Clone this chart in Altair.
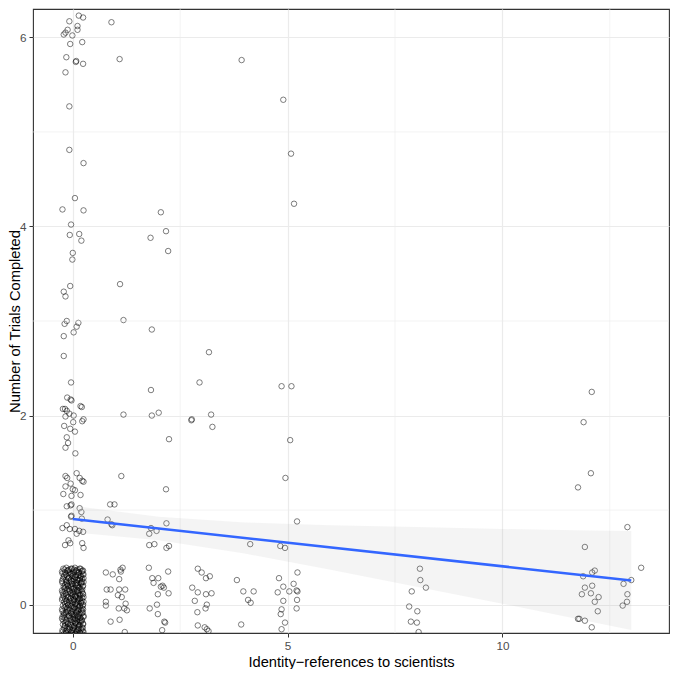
import altair as alt
import pandas as pd

# ---- jittered points ----
# dense cluster at x=0, y=0 (two interleaved sets)
cl_x = [
    -0.22, -0.15, -0.09, -0.02, 0.05, 0.11, 0.18, 0.24,
    -0.25, -0.18, -0.11, -0.05, 0.02, 0.08, 0.15, 0.21,
    -0.20, -0.13, -0.07, 0.00, 0.06, 0.13, 0.19, 0.25,
    -0.23, -0.16, -0.10, -0.03, 0.03, 0.10, 0.17, 0.22,
    -0.24, -0.14, -0.08, -0.01, 0.07, 0.12, 0.20, 0.25,
    -0.21, -0.17, -0.12, -0.04, 0.01, 0.09, 0.14, 0.23,
    -0.25, -0.19, -0.09, -0.02, 0.04, 0.11, 0.18, 0.21,
    -0.22, -0.15, -0.06, 0.00, 0.06, 0.13, 0.16, 0.24,
    -0.24, -0.18, -0.11, -0.05, 0.03, 0.08, 0.15, 0.22,
    -0.20, -0.13, -0.07, 0.01, 0.05, 0.12, 0.19, 0.25,
    -0.23, -0.16, -0.10, -0.03, 0.04, 0.10, 0.17, 0.23,
    -0.25, -0.14, -0.08, 0.00, 0.07, 0.13, 0.20, 0.24,
    -0.21, -0.17, -0.12, -0.04, 0.02, 0.09, 0.14, 0.22,
    -0.24, -0.19, -0.09, -0.01, 0.05, 0.11, 0.18, 0.25,
    -0.22, -0.15, -0.06, 0.02, 0.06, 0.12, 0.16, 0.21,
    -0.23, -0.18, -0.11, -0.05, 0.03, 0.08, 0.15, 0.24,
    -0.20, -0.13, -0.07, 0.01, 0.04, 0.13, 0.19, 0.23,
    -0.24, -0.16, -0.10, -0.03, 0.06, 0.10, 0.17, 0.25,
    -0.21, -0.14, -0.08, 0.00, 0.07, 0.12, 0.20, 0.22,
    -0.25, -0.17, -0.12, -0.04, 0.02, 0.09, 0.14, 0.24,
]
cl_y = [
    0.38, 0.39, 0.37, 0.38, 0.39, 0.37, 0.38, 0.36,
    0.35, 0.34, 0.36, 0.33, 0.35, 0.36, 0.34, 0.35,
    0.31, 0.30, 0.32, 0.31, 0.29, 0.31, 0.30, 0.32,
    0.27, 0.26, 0.28, 0.25, 0.27, 0.26, 0.28, 0.27,
    0.23, 0.22, 0.24, 0.22, 0.23, 0.21, 0.23, 0.24,
    0.19, 0.18, 0.20, 0.19, 0.17, 0.20, 0.18, 0.19,
    0.15, 0.14, 0.16, 0.15, 0.13, 0.15, 0.16, 0.14,
    0.11, 0.10, 0.12, 0.11, 0.09, 0.12, 0.10, 0.11,
    0.07, 0.06, 0.08, 0.07, 0.05, 0.08, 0.06, 0.07,
    0.03, 0.02, 0.04, 0.03, 0.01, 0.04, 0.02, 0.03,
    -0.01, -0.02, 0.00, -0.01, -0.03, 0.00, -0.02, -0.01,
    -0.05, -0.06, -0.04, -0.05, -0.07, -0.04, -0.06, -0.05,
    -0.09, -0.10, -0.08, -0.09, -0.11, -0.08, -0.10, -0.09,
    -0.13, -0.14, -0.12, -0.13, -0.15, -0.12, -0.14, -0.13,
    -0.17, -0.18, -0.16, -0.17, -0.19, -0.16, -0.18, -0.17,
    -0.21, -0.22, -0.20, -0.21, -0.23, -0.20, -0.22, -0.21,
    -0.25, -0.26, -0.24, -0.25, -0.27, -0.24, -0.26, -0.25,
    -0.29, -0.30, -0.28, -0.29, -0.31, -0.28, -0.30, -0.29,
    -0.33, -0.34, -0.32, -0.33, -0.35, -0.32, -0.34, -0.33,
    -0.37, -0.38, -0.36, -0.37, -0.39, -0.36, -0.38, -0.37,
]
cl2_x = [
    -0.19, -0.12, -0.04, 0.03, 0.09, 0.16, 0.22,
    -0.24, -0.16, -0.07, 0.00, 0.08, 0.14, 0.23,
    -0.21, -0.10, -0.02, 0.05, 0.12, 0.18, 0.25,
    -0.25, -0.15, -0.05, 0.02, 0.10, 0.17, 0.21,
    -0.18, -0.11, -0.03, 0.06, 0.11, 0.19, 0.24,
    -0.19, -0.12, -0.04, 0.03, 0.09, 0.16, 0.22,
    -0.24, -0.16, -0.07, 0.00, 0.08, 0.14, 0.23,
    -0.21, -0.10, -0.02, 0.05, 0.12, 0.18, 0.25,
    -0.25, -0.15, -0.05, 0.02, 0.10, 0.17, 0.21,
    -0.18, -0.11, -0.03, 0.06, 0.11, 0.19, 0.24,
    -0.19, -0.12, -0.04, 0.03, 0.09, 0.16, 0.22,
    -0.24, -0.16, -0.07, 0.00, 0.08, 0.14, 0.23,
    -0.21, -0.10, -0.02, 0.05, 0.12, 0.18, 0.25,
    -0.25, -0.15, -0.05, 0.02, 0.10, 0.17, 0.21,
    -0.18, -0.11, -0.03, 0.06, 0.11, 0.19, 0.24,
    -0.19, -0.12, -0.04, 0.03, 0.09, 0.16, 0.22,
    -0.24, -0.16, -0.07, 0.00, 0.08, 0.14, 0.23,
    -0.21, -0.10, -0.02, 0.05, 0.12, 0.18, 0.25,
    -0.25, -0.15, -0.05, 0.02, 0.10, 0.17, 0.21,
]
cl2_y = [
    0.37, 0.36, 0.38, 0.37, 0.35, 0.38, 0.36,
    0.33, 0.32, 0.34, 0.33, 0.31, 0.34, 0.32,
    0.29, 0.28, 0.30, 0.29, 0.27, 0.30, 0.28,
    0.25, 0.24, 0.26, 0.25, 0.23, 0.26, 0.24,
    0.21, 0.20, 0.22, 0.21, 0.19, 0.22, 0.20,
    0.17, 0.16, 0.18, 0.17, 0.15, 0.18, 0.16,
    0.13, 0.12, 0.14, 0.13, 0.11, 0.14, 0.12,
    0.09, 0.08, 0.10, 0.09, 0.07, 0.10, 0.08,
    0.05, 0.04, 0.06, 0.05, 0.03, 0.06, 0.04,
    0.01, 0.00, 0.02, 0.01, -0.01, 0.02, 0.00,
    -0.03, -0.04, -0.02, -0.03, -0.05, -0.02, -0.04,
    -0.07, -0.08, -0.06, -0.07, -0.09, -0.06, -0.08,
    -0.11, -0.12, -0.10, -0.11, -0.13, -0.10, -0.12,
    -0.15, -0.16, -0.14, -0.15, -0.17, -0.14, -0.16,
    -0.19, -0.20, -0.18, -0.19, -0.21, -0.18, -0.20,
    -0.23, -0.24, -0.22, -0.23, -0.25, -0.22, -0.24,
    -0.27, -0.28, -0.26, -0.27, -0.29, -0.26, -0.28,
    -0.31, -0.32, -0.30, -0.31, -0.33, -0.30, -0.32,
    -0.35, -0.36, -0.34, -0.35, -0.37, -0.34, -0.36,
]

# all other points
pts_x = [
    # x~0, y~6..4
    0.14, 0.24, -0.08, 0.90, 0.11, 0.11, -0.12, -0.17, -0.21, -0.01, 0.22, -0.06,
    -0.15, 1.09, 0.08, 0.07, 0.24, -0.17, -0.08, -0.08, 0.25,
    0.05, -0.24, 0.25, 2.05, -0.04, 2.17, 0.15, -0.07, 1.81, 0.20, 0.00, 2.22, -0.01,
    # y~3
    1.10, -0.06, -0.21, -0.17, 1.18, -0.14, 0.13, -0.19, 0.09, 0.02, 1.84, -0.21, 3.17, -0.21,
    # y~2
    -0.04, 2.95, 1.82, -0.13, -0.05, -0.03, 0.18, 0.21, -0.23, -0.18, -0.14, -0.08, 0.02,
    -0.17, 1.18, 1.84, 2.00, 3.22, 2.77, 2.76, 0.25, -0.20, 0.01, 0.22, -0.06, 0.05, -0.14,
    -0.11, -0.17, 0.06, 2.24, 3.25,
    # x~4,5,12 high
    3.93, 4.90, 5.08, 5.15, 4.86, 5.09, 5.06, 4.95, 12.08, 11.89, 12.06, 11.76,
    # y~1
    1.13, 2.17, -0.17, -0.13, 0.09, 0.16, 0.25, 0.22, -0.05, -0.17, 0.00, 0.05, -0.22,
    -0.03, 0.18, -0.14, -0.05, -0.03, 0.16, 0.20, -0.03, -0.04, 0.21, -0.24, -0.14, -0.07,
    0.05, 0.09, 0.15, 0.24, -0.10, -0.06, -0.18, 0.22, 0.25,
    0.87, 0.97, 0.81, 0.90, 0.92,
    2.18, 1.82, 1.95, 1.78, 1.78, 1.90, 2.18, 2.24,
    4.13, 5.22, 4.83, 4.94, 11.92, 12.91,
    # x~1, y~0
    0.77, 0.93, 1.11, 1.16, 1.12, 1.08, 0.79, 0.88, 1.08, 1.22, 1.05, 1.14, 0.77, 0.77,
    1.07, 1.23, 1.20, 1.26, 0.88, 1.09, 1.21,
    # x~2, y~0
    1.77, 2.22, 1.85, 1.99, 1.88, 2.05, 2.09, 2.12, 1.98, 2.23, 1.96, 1.79, 1.98, 2.13,
    2.15, 2.08,
    # x~3, y~0
    2.91, 3.00, 3.10, 3.19, 2.78, 2.91, 3.10, 3.23, 2.84, 3.12, 3.09, 2.90, 2.91, 3.07,
    3.12, 3.16,
    # x~4, y~0
    3.82, 3.97, 4.21, 4.08, 4.14, 3.92,
    # x~5, y~0
    4.80, 4.90, 4.77, 5.04, 5.14, 5.23, 5.21, 5.23, 4.90, 5.22, 5.21, 4.86, 4.84, 4.94, 4.86,
    # x~8, y~0
    8.08, 8.09, 8.22, 7.89, 7.83, 8.02, 7.87, 8.01, 8.05,
    # x~12, y~0
    11.88, 12.09, 12.15, 11.92, 12.09, 11.85, 12.06, 12.24, 12.15, 12.22, 11.76, 11.79,
    11.92, 12.08,
    # x~13, y~0
    13.23, 13.00, 12.82, 12.91, 12.90, 12.80,
]
pts_y = [
    6.23, 6.21, 6.17, 6.16, 6.12, 6.08, 6.08, 6.05, 6.03, 6.02, 5.95, 5.93,
    5.79, 5.77, 5.75, 5.74, 5.72, 5.63, 5.27, 4.81, 4.67,
    4.30, 4.18, 4.17, 4.15, 4.02, 3.95, 3.92, 3.91, 3.88, 3.85, 3.72, 3.74, 3.65,
    3.39, 3.37, 3.31, 3.26, 3.01, 3.00, 2.98, 2.97, 2.94, 2.88, 2.91, 2.84, 2.67, 2.63,
    2.35, 2.35, 2.27, 2.19, 2.17, 2.16, 2.10, 2.09, 2.07, 2.07, 2.05, 2.02, 2.00,
    1.99, 2.01, 2.00, 2.03, 2.01, 1.96, 1.95, 1.96, 1.89, 1.93, 1.94, 1.86, 1.83, 1.77,
    1.71, 1.66, 1.60, 1.75, 1.88,
    5.76, 5.34, 4.77, 4.24, 2.31, 2.31, 1.74, 1.34, 2.25, 1.93, 1.39, 1.24,
    1.36, 1.22, 1.36, 1.34, 1.39, 1.34, 1.30, 1.31, 1.28, 1.25, 1.22, 1.21, 1.17,
    1.15, 1.16, 1.04, 1.05, 1.06, 1.02, 0.98, 0.94, 0.93, 0.91, 0.81, 0.84, 0.80,
    0.80, 0.75, 0.78, 0.77, 0.68, 0.65, 0.63, 0.65, 0.60,
    1.06, 1.06, 0.90, 0.85, 0.84,
    0.86, 0.81, 0.78, 0.75, 0.63, 0.64, 0.60, 0.62,
    0.64, 0.88, 0.62, 0.60, 0.61, 0.82,
    0.34, 0.32, 0.37, 0.39, 0.35, 0.27, 0.16, 0.16, 0.16, 0.16, 0.10, 0.08, 0.03, -0.01,
    -0.04, 0.01, -0.04, -0.06, -0.18, -0.16, -0.29,
    0.39, 0.35, 0.28, 0.28, 0.23, 0.19, 0.20, 0.18, 0.11, 0.12, 0.00, -0.04, -0.10, -0.18,
    -0.19, -0.27,
    0.38, 0.34, 0.28, 0.30, 0.18, 0.13, 0.11, 0.12, 0.04, 0.00, -0.04, -0.08, -0.22, -0.24,
    -0.26, -0.28,
    0.26, 0.14, 0.14, 0.05, 0.02, -0.21,
    0.28, 0.19, 0.13, 0.14, 0.22, 0.34, 0.15, 0.14, 0.04, 0.05, -0.04, -0.05, -0.10, -0.19, -0.26,
    0.38, 0.26, 0.18, 0.14, -0.02, -0.07, -0.18, -0.19, -0.29,
    0.30, 0.34, 0.36, 0.18, 0.20, 0.11, 0.12, 0.08, 0.03, -0.07, -0.15, -0.15,
    -0.17, -0.24,
    0.39, 0.26, 0.22, 0.11, 0.03, -0.01,
]

# ---- linear fit and its confidence band ----
fit_x = [0, 13]
fit_y = [0.905, 0.255]
band_x = [0, 2, 4, 6, 8, 10, 12, 13]
band_lo = [0.765, 0.68, 0.54, 0.37, 0.19, 0.01, -0.175, -0.268]
band_hi = [1.045, 0.93, 0.87, 0.84, 0.82, 0.80, 0.785, 0.778]

# ---- grid / ticks ----
x_major = [0, 5, 10]
x_minor = [2.5, 7.5, 12.5]
y_major = [0, 2, 4, 6]
y_minor = [1, 3, 5]

X_DOMAIN = [-0.926, 13.878]
Y_DOMAIN = [-0.3, 6.3]
W, H = 636, 624
X_TITLE = "Identity\u2212references to scientists"
Y_TITLE = "Number of Trials Completed"

points = pd.DataFrame({"x": cl_x + cl2_x + pts_x, "y": cl_y + cl2_y + pts_y})
fit = pd.DataFrame({"x": fit_x, "y": fit_y})
band = pd.DataFrame({"x": band_x, "lo": band_lo, "hi": band_hi})

xs = alt.Scale(domain=X_DOMAIN, nice=False, zero=False)
ys = alt.Scale(domain=Y_DOMAIN, nice=False, zero=False)

x_axis = alt.Axis(values=x_major, grid=True, gridColor="#EBEBEB", gridWidth=1.2,
                  domain=False, tickSize=4, tickColor="#333333", tickWidth=1,
                  labelColor="#4D4D4D", labelFontSize=11.7, labelPadding=3.5,
                  titleFontSize=14.7, titleColor="black", titleFontWeight="normal",
                  titleBaseline="alphabetic", titleY=33, labelFlush=False)
y_axis = alt.Axis(values=y_major, grid=True, gridColor="#EBEBEB", gridWidth=1.2,
                  domain=False, tickSize=4, tickColor="#333333", tickWidth=1,
                  labelColor="#4D4D4D", labelFontSize=11.7, labelPadding=3,
                  titleFontSize=14.7, titleColor="black", titleFontWeight="normal",
                  titleAngle=270, titleBaseline="alphabetic", titleAlign="center",
                  titleX=-14, titleY=H / 2, labelFlush=False)


def X(field):
    return alt.X(field, scale=xs, axis=x_axis, title=X_TITLE)


def Y(field):
    return alt.Y(field, scale=ys, axis=y_axis, title=Y_TITLE)


pts = alt.Chart(points).mark_point(
    shape="circle", filled=False, size=30, stroke="black",
    strokeOpacity=0.85, strokeWidth=0.85, clip=True
).encode(x=X("x:Q"), y=Y("y:Q"))

minor_x = alt.Chart(pd.DataFrame({"v": x_minor})).mark_rule(
    color="#EBEBEB", strokeWidth=0.6
).encode(x=X("v:Q"))

minor_y = alt.Chart(pd.DataFrame({"v": y_minor})).mark_rule(
    color="#EBEBEB", strokeWidth=0.6
).encode(y=Y("v:Q"))

area = alt.Chart(band).mark_area(color="#999999", opacity=0.11, clip=True).encode(
    x=X("x:Q"), y=Y("lo:Q"), y2="hi:Q",
)

line = alt.Chart(fit).mark_line(color="#3366FF", strokeWidth=2.6, clip=True).encode(
    x=X("x:Q"), y=Y("y:Q"),
)

chart = alt.layer(pts, minor_x, minor_y, area, line).properties(
    width=W, height=H,
    padding={"left": 25, "top": 1, "right": 1, "bottom": 36},
    autosize=alt.AutoSizeParams(type="none"),
).configure_view(
    stroke="#333333", strokeWidth=1.1
).configure_axis(
    labelFont="Liberation Sans", titleFont="Liberation Sans"
)

chart.save("out.html", embed_options={"renderer": "svg", "actions": False})
